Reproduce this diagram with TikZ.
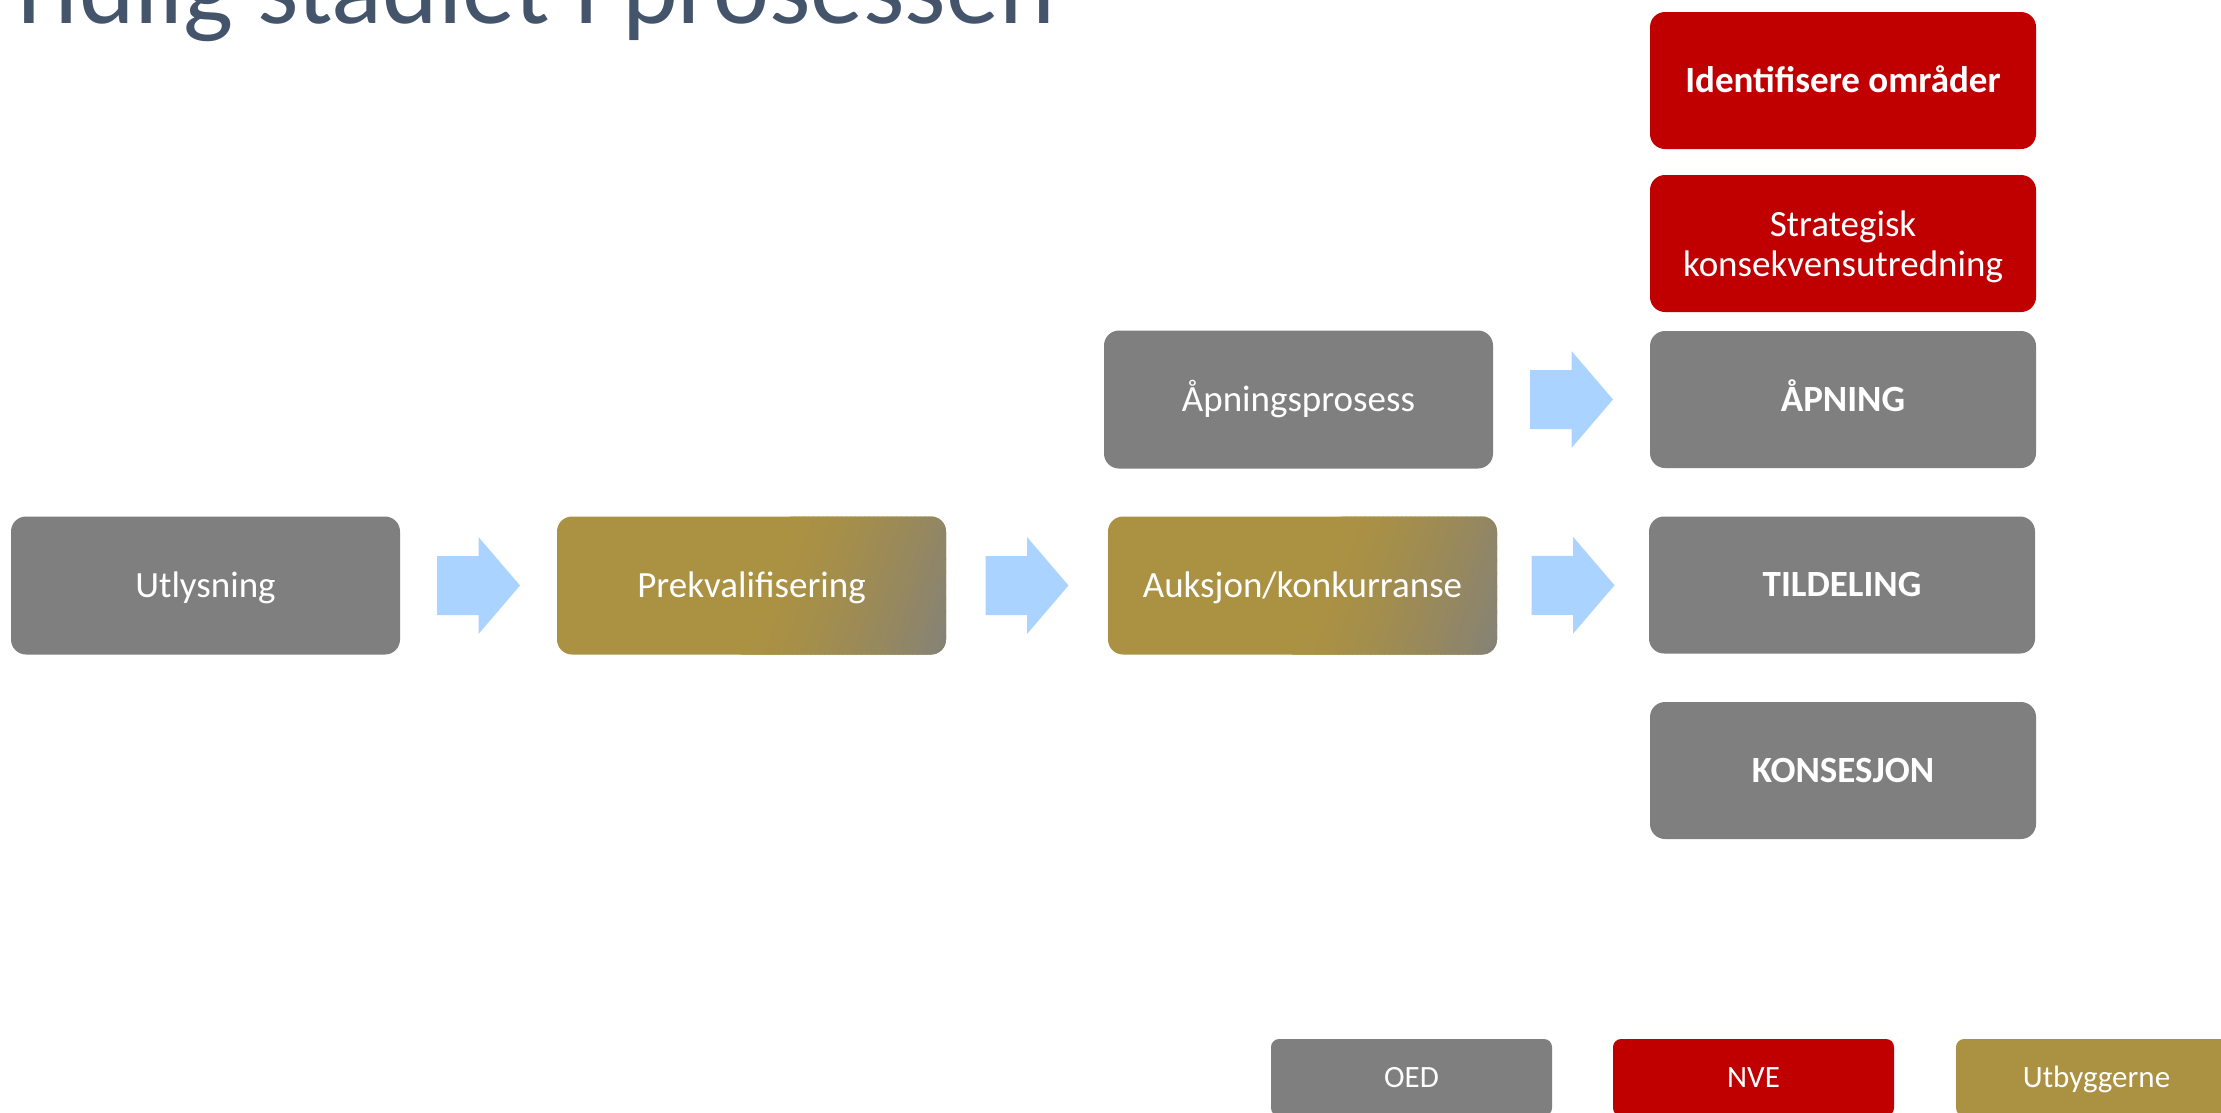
\documentclass[tikz,border=0pt]{standalone}
\usepackage{fontspec}
\setmainfont{Carlito}
\usetikzlibrary{calc}
\definecolor{boxgray}{RGB}{127,127,127}
\definecolor{boxred}{RGB}{192,0,0}
\definecolor{boxgold}{RGB}{171,145,66}
\definecolor{arrowblue}{RGB}{171,211,255}
\definecolor{titleblue}{RGB}{68,84,106}
\newcommand\goldgradient[1]{%
  \begin{scope}[shift={(#1)}]
    \clip[rounded corners=15pt] (-194.5,-69) rectangle (194.5,69);
    \fill[boxgold] (-200,-75) rectangle (200,75);
    \foreach \i in {0,...,47}{
      \pgfmathsetmacro{\va}{14+\i*222/48}
      \pgfmathsetmacro{\vb}{14+(\i+1)*222/48+1}
      \pgfmathsetmacro{\mx}{((\i+0.5)/48)^1.5*100}
      \fill[boxgray!\mx!boxgold] (\va+28.6,-80) -- (\vb+28.6,-80) -- (\vb-28.6,80) -- (\va-28.6,80) -- cycle;
    }
    \fill[boxgray] (264.6,-80) -- (600,-80) -- (600,80) -- (207.4,80) -- cycle;
  \end{scope}}
\tikzset{
  box/.style={rectangle, rounded corners=15pt, inner sep=0pt, minimum width=389pt, minimum height=138pt, text=white, font=\fontsize{37}{40}\selectfont},
  oneline/.style={text height=23.4pt, text depth=0pt},
  graybox/.style={box, fill=boxgray},
  redbox/.style={box, fill=boxred},
  goldbox/.style={box},
  colbox/.style={minimum width=386pt, minimum height=137pt},
  legbox/.style={rectangle, rounded corners=8pt, inner sep=0pt, minimum width=281pt, minimum height=77pt, text=white, font=\fontsize{31}{34}\selectfont, text height=19.6pt, text depth=0pt},
  blockarrow/.pic={\fill[arrowblue] (-41.5,-29.5) -- (0,-29.5) -- (0,-48.5) -- (41.5,0) -- (0,48.5) -- (0,29.5) -- (-41.5,29.5) -- cycle;}
}
\begin{document}
\begin{tikzpicture}[x=1pt, y=-1pt]
\useasboundingbox (0,0) rectangle (2221,1112);
\clip (0,0) rectangle (2221,1112);
\fill[white] (0,0) rectangle (2221,1112);

\node[anchor=base west, inner sep=0pt, text=titleblue, font=\fontsize{106}{120}\selectfont] (title) at (3,23) {Tidlig stadiet i prosessen};

% gradient backgrounds of the two gold boxes
\coordinate (prekc) at (751.5,585.5);
\coordinate (aukc) at (1302.5,585.5);
\goldgradient{prekc}
\goldgradient{aukc}

% main row
\node[graybox, oneline] (utl) at (205.5,585.5) {Utlysning};
\node[goldbox, oneline] (prek) at (prekc) {Prekvalifisering};
\node[goldbox, oneline] (auk) at (aukc) {Auksjon/konkurranse};
\node[graybox, oneline] (apnp) at (1298.5,399.5) {Åpningsprosess};

% right column
\node[redbox, colbox, oneline, font=\fontsize{37}{40}\selectfont\bfseries] (ident) at (1843,80.5) {Identifisere områder};
\node[redbox, colbox, align=center, text depth=0pt] (strat) at (1843,243.5) {Strategisk\\konsekvensutredning};
\node[graybox, colbox, oneline, font=\fontsize{37}{40}\selectfont\bfseries] (apning) at (1843,399.5) {ÅPNING};
\node[graybox, colbox, oneline, font=\fontsize{37}{40}\selectfont\bfseries] (tild) at (1842,585) {TILDELING};
\node[graybox, colbox, oneline, font=\fontsize{37}{40}\selectfont\bfseries] (kons) at (1843,770.5) {KONSESJON};

% arrows
\pic at ($(utl.east)!0.5!(prek.west)$) {blockarrow};
\pic at ($(prek.east)!0.5!(auk.west)$) {blockarrow};
\pic at ($(auk.east)!0.5!(tild.west)$) {blockarrow};
\pic at ($(apnp.east)!0.5!(apning.west)$) {blockarrow};

% legend
\node[legbox, fill=boxgray] (oed) at (1411.5,1077.5) {OED};
\node[legbox, fill=boxred] (nve) at (1753.5,1077.5) {NVE};
\node[legbox, fill=boxgold] (utb) at (2096.5,1077.5) {Utbyggerne};
\end{tikzpicture}
\end{document}
